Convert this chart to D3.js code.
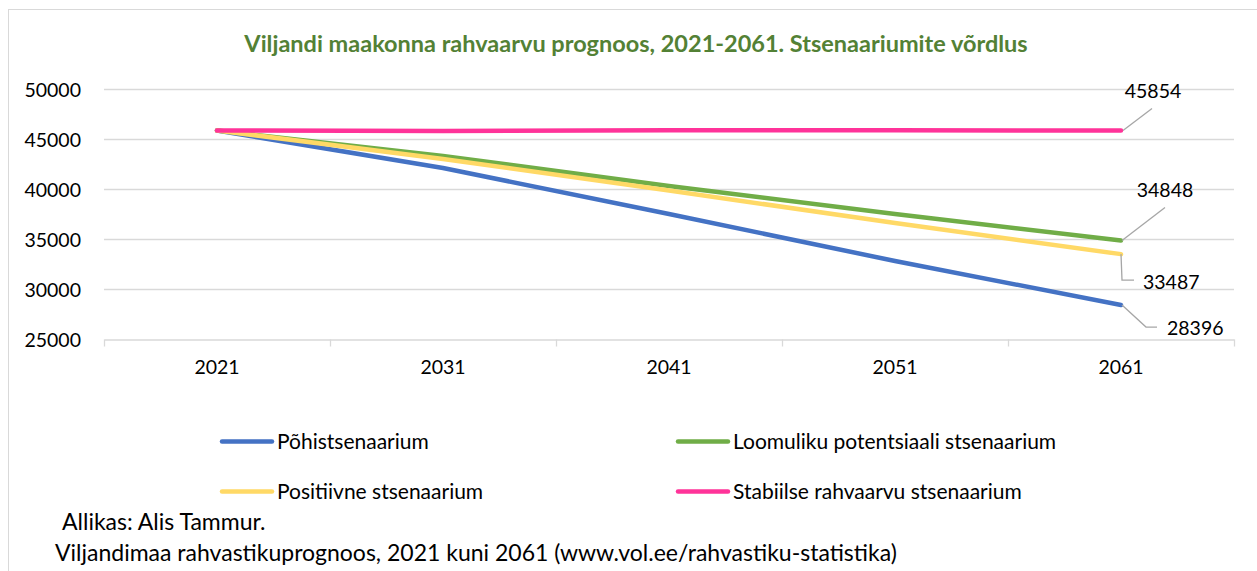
<!DOCTYPE html>
<html>
<head>
<meta charset="utf-8">
<script src="https://cdn.jsdelivr.net/npm/d3@7"></script>
<style>
    body { margin: 0; background: #fff; }
    text { font-family: Lato, "Open Sans", sans-serif; fill: #000; }
</style>
</head>
<body>
<div id="chart"></div>
<script>
// data
const years = ["2021", "2031", "2041", "2051", "2061"];
const pohi = [45854, 42100, 37500, 32800, 28396];
const loomulik = [45854, 43300, 40300, 37500, 34848];
const positiivne = [45854, 43000, 39850, 36600, 33487];
const stabiilne = [45854, 45800, 45880, 45870, 45854];
const yTicks = [25000, 30000, 35000, 40000, 45000, 50000];

const seriesNames = ["Põhistsenaarium", "Loomuliku potentsiaali stsenaarium",
    "Positiivne stsenaarium", "Stabiilse rahvaarvu stsenaarium"];
const seriesValues = [pohi, loomulik, positiivne, stabiilne];
const colors = ["#4472C4", "#70AD47", "#FFD966", "#FF3399"];

const W = 1257, H = 571;
const margin = {top: 89, right: 23, bottom: 232, left: 104};

const svg = d3.select("#chart").append("svg")
    .attr("width", W)
    .attr("height", H);

// outer frame
svg.append("rect")
    .attr("x", 8.5).attr("y", 9.5)
    .attr("width", 1270).attr("height", 600)
    .attr("fill", "none")
    .attr("stroke", "#d9d9d9");

svg.append("text")
    .attr("x", 636).attr("y", 52)
    .attr("text-anchor", "middle")
    .style("font-weight", "bold")
    .style("font-size", "23.5px")
    .style("fill", "#538135")
    .text("Viljandi maakonna rahvaarvu prognoos, 2021-2061. Stsenaariumite võrdlus");

const x = d3.scaleBand()
    .domain(years)
    .range([margin.left, W - margin.right])
    .padding(0);

const y = d3.scaleLinear()
    .domain([25000, 50000])
    .range([H - margin.bottom, margin.top]);

const px = d => x(d) + x.bandwidth() / 2;

// grid
svg.append("g").selectAll("line")
    .data(yTicks.slice(1))
    .join("line")
    .attr("x1", margin.left).attr("x2", W - margin.right)
    .attr("y1", d => Math.round(y(d)) + 0.5).attr("y2", d => Math.round(y(d)) + 0.5)
    .attr("stroke", "#d9d9d9").attr("stroke-width", 1.3);

// y labels
svg.append("g").selectAll("text")
    .data(yTicks)
    .join("text")
    .attr("x", 81)
    .attr("y", d => y(d) + 7.5)
    .attr("text-anchor", "end")
    .style("font-size", "19.5px")
    .text(d => d);

// x axis
const xAxis = svg.append("g")
    .attr("transform", `translate(0,${Math.round(y(25000)) + 0.5})`)
    .call(d3.axisBottom(x).tickSize(0).tickPadding(21));
xAxis.select(".domain").attr("stroke", "#d9d9d9").attr("stroke-width", 1.3);
xAxis.selectAll("text").style("font-size", "19.5px").style("font-family", "Lato, sans-serif");

const bounds = years.map(d => x(d)).concat([W - margin.right]);
xAxis.selectAll(".sep")
    .data(bounds)
    .join("line")
    .attr("class", "sep")
    .attr("x1", d => Math.round(d) + 0.5).attr("x2", d => Math.round(d) + 0.5)
    .attr("y1", 0).attr("y2", 7)
    .attr("stroke", "#d9d9d9").attr("stroke-width", 1.3);

// lines
const line = d3.line()
    .x((d, i) => px(years[i]))
    .y(d => y(d));

svg.append("g").selectAll("path")
    .data(seriesValues)
    .join("path")
    .attr("d", d => line(d))
    .attr("fill", "none")
    .attr("stroke", (d, i) => colors[i])
    .attr("stroke-width", 4.5)
    .attr("stroke-linecap", "round")
    .attr("stroke-linejoin", "round");

// end labels with leader lines
const last = years.length - 1;
const xEnd = px(years[last]);
const labels = [
    {v: stabiilne[last], leader: [[2, 0], [31, -22]], tx: 1153, ty: 98, anchor: "middle"},
    {v: loomulik[last], leader: [[1, 0], [44, -33]], tx: 1165, ty: 197, anchor: "middle"},
    {v: positiivne[last], leader: [[0, 0], [1, 26], [13, 26]], tx: 1143, ty: 289, anchor: "start"},
    {v: pohi[last], leader: [[1, 0], [25, 22], [36, 22]], tx: 1167, ty: 335, anchor: "start"}
];

labels.forEach(l => {
    const y0 = y(l.v);
    svg.append("polyline")
        .attr("points", l.leader.map(p => [xEnd + p[0], y0 + p[1]].join(",")).join(" "))
        .attr("fill", "none")
        .attr("stroke", "#a6a6a6")
        .attr("stroke-width", 1.3);
    svg.append("text")
        .attr("x", l.tx).attr("y", l.ty)
        .attr("text-anchor", l.anchor)
        .style("font-size", "19.5px")
        .text(l.v);
});

// legend
const legendPos = [[222, 441.5], [678, 441.5], [222, 491.5], [678, 491.5]];
const legend = svg.append("g").selectAll("g")
    .data(seriesNames)
    .join("g")
    .attr("transform", (d, i) => `translate(${legendPos[i][0]},${legendPos[i][1]})`);

legend.append("line")
    .attr("x1", 0).attr("x2", 50)
    .attr("stroke", (d, i) => colors[i])
    .attr("stroke-width", 4.5)
    .attr("stroke-linecap", "round");

legend.append("text")
    .attr("x", 55).attr("y", 7)
    .style("font-size", "21px")
    .text(d => d);

// source
svg.append("text")
    .attr("x", 62).attr("y", 530)
    .style("font-size", "23px")
    .text("Allikas: Alis Tammur.");
svg.append("text")
    .attr("x", 55).attr("y", 561)
    .style("font-size", "23px")
    .text("Viljandimaa rahvastikuprognoos, 2021 kuni 2061 (www.vol.ee/rahvastiku-statistika)");
</script>
</body>
</html>
